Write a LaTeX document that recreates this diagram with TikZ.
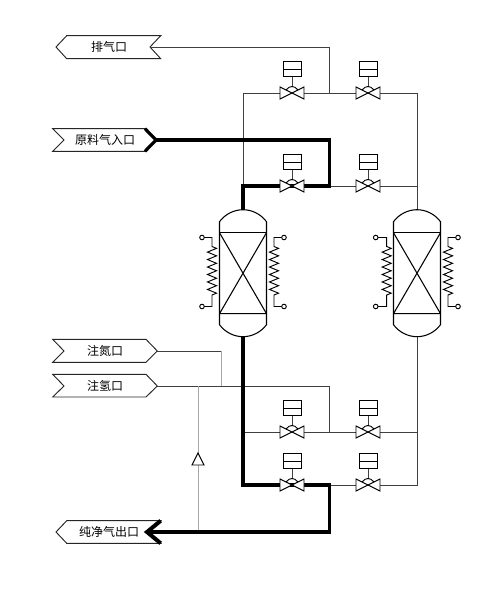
\documentclass[tikz,border=0pt]{standalone}
\usepackage{fontspec}
\setmainfont{Noto Sans CJK SC}
\usetikzlibrary{decorations.pathmorphing}
\tikzset{
  thinline/.style={line width=0.7pt,black!75},
  greyline/.style={line width=0.7pt,black!35},
  thickline/.style={line width=2.4pt,line join=miter},
  tagbox/.style={line width=0.7pt,black!85,fill=white},
  taglabel/.style={font=\fontsize{9}{9}\selectfont,inner sep=0pt},
  pics/valve/.style={code={
    \draw[thinline] (0,-6.5) -- (0,-24);
    \draw[line width=0.7pt,fill=white] (-9,-32) rectangle (9,-17);
    \draw[line width=0.7pt] (-9,-24) -- (9,-24);
    \draw[line width=0.7pt,fill=white] (-12,-6) -- (12,6) -- (12,-6) -- (-12,6) -- cycle;
    \draw[line width=0.7pt] (-6,-3) .. controls (-4,-5.5) and (-2,-6.5) .. (0,-6.5) .. controls (2,-6.5) and (4,-5.5) .. (6,-3);
  }},
  pics/vessel/.style={code={
    \draw[line width=0.8pt,fill=white] (-23.5,-11) .. controls (-18,-18.5) and (-9,-23) .. (0,-23) .. controls (9,-23) and (18,-18.5) .. (23.5,-11)
      -- (23.5,92) .. controls (18,99.5) and (9,104) .. (0,104) .. controls (-9,104) and (-18,99.5) .. (-23.5,92) -- cycle;
    \draw[line width=1.1pt] (-23.5,0) -- (23.5,0);
    \draw[line width=0.8pt] (-23.5,81) -- (23.5,81) (-23.5,0) -- (23.5,81) (23.5,0) -- (-23.5,81);
  }},
  pics/coil/.style={code={
    \draw[line width=0.7pt] (#1,0) circle (2.3);
    \draw[line width=0.7pt] (#1,69) circle (2.3);
    \draw[line width=0.7pt] (#1*0.77,0) -- (0,0) -- (0,9)
      decorate[decoration={zigzag,segment length=5.6,amplitude=3.4}]{-- (0,59)} -- (0,69) -- (#1*0.77,69);
  }}
}
\begin{document}
\begin{tikzpicture}[x=0.75pt,y=-0.75pt]
  \useasboundingbox (0,0) rectangle (500,592);
  \fill[white] (0,0) rectangle (500,592);

  % valves and pipe corners
  \coordinate (vTopL) at (292,93);
  \coordinate (vTopR) at (368,93);
  \coordinate (vFeedL) at (292,186);
  \coordinate (vFeedR) at (368,186);
  \coordinate (vLowL) at (292,432);
  \coordinate (vLowR) at (368,432);
  \coordinate (vOutL) at (292,485);
  \coordinate (vOutR) at (368,485);
  \coordinate (topL) at (243,93);
  \coordinate (topR) at (417,93);
  \coordinate (feedL) at (243,186);
  \coordinate (feedR) at (417,186);
  \coordinate (feedM) at (329.5,186);
  \coordinate (topM) at (329.5,93);
  \coordinate (lowL) at (243,432);
  \coordinate (lowR) at (417,432);
  \coordinate (lowM) at (329.5,432);
  \coordinate (outL) at (243,485);
  \coordinate (outR) at (417,485);
  \coordinate (outM) at (329.5,485);
  \coordinate (topA) at (243,210);
  \coordinate (topB) at (417,210);
  \coordinate (botA) at (243,337);
  \coordinate (botB) at (417,337);

  % tags
  \draw[tagbox] (56,47) -- (66.7,35.7) -- (160.7,35.7) -- (150,47) -- (160.7,58.7) -- (66.7,58.7) -- cycle;
  \draw[tagbox] (52.7,128.7) -- (145,128.7) -- (156,140) -- (145,151.3) -- (52.7,151.3) -- (64,140) -- cycle;
  \draw[tagbox] (52.7,339.3) -- (146,339.3) -- (157.3,351) -- (146,362.3) -- (52.7,362.3) -- (64,351) -- cycle;
  \draw[tagbox] (52.7,374.3) -- (146,374.3) -- (157.3,386) -- (146,397) -- (52.7,397) -- (64,386) -- cycle;
  \draw[tagbox] (56,532) -- (66.7,520.7) -- (160.7,520.7) -- (147,532) -- (160.7,543.3) -- (66.7,543.3) -- cycle;
  \node[taglabel] (exhaust) at (109,47) {排气口};
  \node[taglabel] (feed) at (105,140) {原料气入口};
  \node[taglabel] (nitrogen) at (105,351) {注氮口};
  \node[taglabel] (hydrogen) at (105,386) {注氢口};
  \node[taglabel] (product) at (109,532) {纯净气出口};
  \coordinate (exhaustEnd) at (150,47);
  \coordinate (feedEnd) at (156,140);
  \coordinate (nitrogenEnd) at (157.3,351);
  \coordinate (hydrogenEnd) at (157.3,386);
  \coordinate (productEnd) at (147,532);

  % thin pipes
  \draw[thinline] (topL) -- (topR) -- (feedR) -- (feedL) -- (topL);
  \draw[thinline] (exhaustEnd) -- (topM |- exhaustEnd) -- (topM);
  \draw[thinline] (lowL) -- (lowR) (outM) -- (outR);
  \draw[thinline] (topR) -- (topB) (botB) -- (outR) -- (outM);
  \draw[thinline] (nitrogenEnd) -- (221,351);
  \draw[thinline] (hydrogenEnd) -- (lowM |- hydrogenEnd) -- (lowM);

  % grey pipes
  \coordinate (greyA) at (221,386);
  \coordinate (greyB) at (198,386);
  \draw[greyline] (221,351) -- (greyA);
  \draw[greyline] (greyB) -- (198,532);
  \draw[line width=0.7pt,fill=white] (198,453) -- (204,465) -- (192,465) -- cycle;

  % thick pipes
  \draw[thickline] (feedEnd) -- (feedM |- feedEnd) -- (feedM) -- (feedL) -- (topA);
  \draw[thickline] (botA) -- (outL) -- (outM) -- (outM |- productEnd) -- (productEnd);
  \draw[thickline] (145,128.7) -- (156,140) -- (145,151.3);
  \draw[thickline,line width=3pt] (160.7,520.7) -- (147,532) -- (160.7,543.3);

  % valves
  \foreach \v in {vTopL,vTopR,vFeedL,vFeedR,vLowL,vLowR,vOutL,vOutR}
    \pic at (\v) {valve};

  % vessels
  \pic at (243,232.7) {vessel};
  \pic at (417,232.7) {vessel};

  % coils
  \pic at (212,237.5) {coil=-10};
  \pic at (274,237.5) {coil=10};
  \pic at (386.7,237.5) {coil=-11};
  \pic at (448,237.5) {coil=10};
\end{tikzpicture}
\end{document}
